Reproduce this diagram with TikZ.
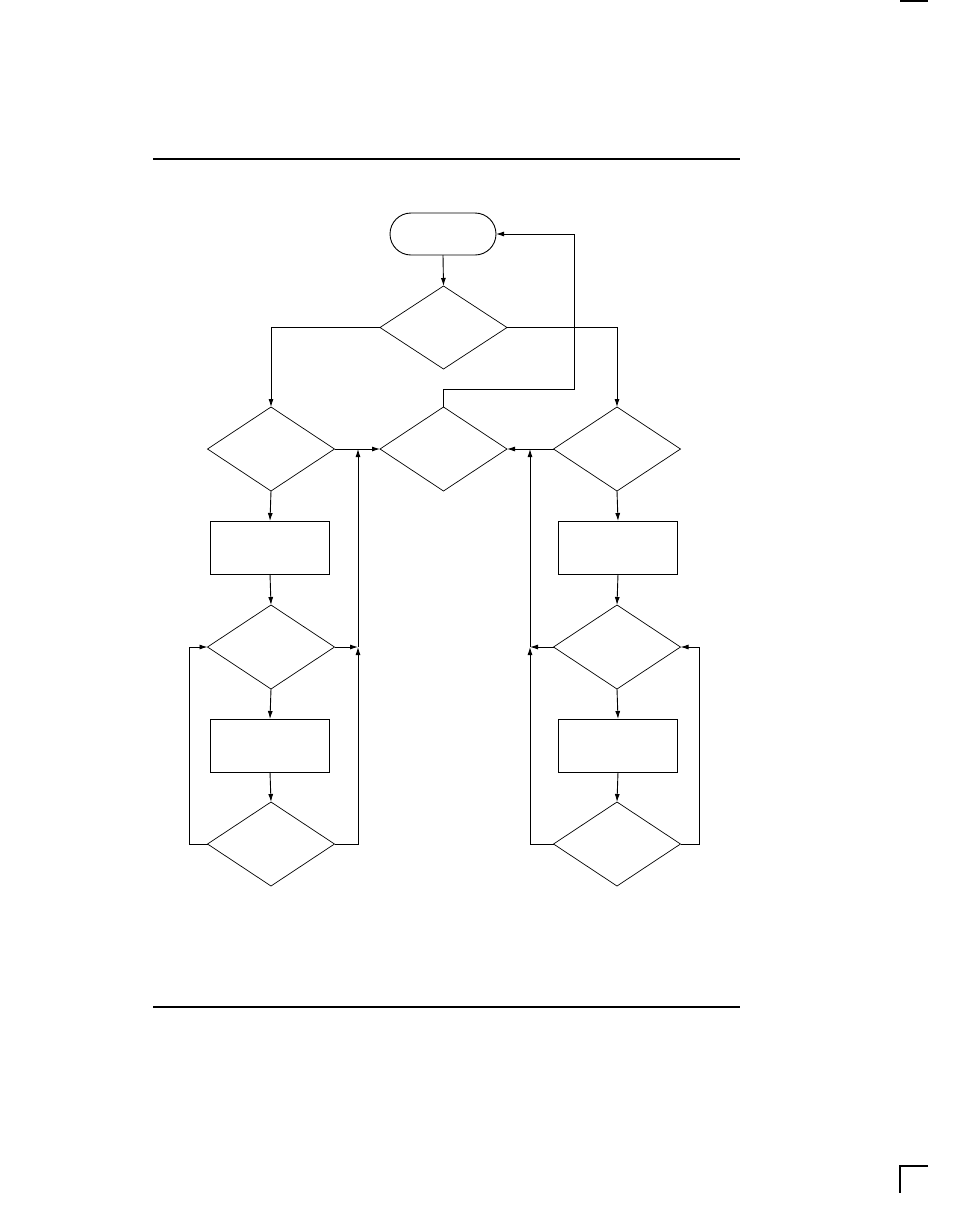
\documentclass[tikz,border=0pt]{standalone}
\usetikzlibrary{shapes.geometric,shapes.misc,arrows.meta}
\begin{document}
\begin{tikzpicture}[x=1pt,y=-1pt,
  dec/.style={draw,diamond,inner sep=0pt,outer sep=0pt,minimum width=127pt,minimum height=84pt,line width=0.7pt},
  proc/.style={draw,rectangle,inner sep=0pt,outer sep=0pt,minimum width=119pt,minimum height=53pt,line width=0.9pt},
  term/.style={draw,rounded rectangle,inner sep=0pt,outer sep=0pt,minimum width=106pt,minimum height=42pt,line width=0.9pt},
  conn/.style={line width=0.9pt},
  arr/.style={conn,-{Latex[length=8pt,width=5pt]}},
  rule/.style={line width=1.2pt}]
\useasboundingbox (0,0) rectangle (954,1219);
% page rules and marks
\coordinate (r1a) at (153,159); \coordinate (r1b) at (740,159);
\coordinate (r2a) at (153,1007); \coordinate (r2b) at (740,1007);
\draw[rule] (r1a) -- (r1b);
\draw[rule] (r2a) -- (r2b);
\coordinate (m1a) at (900,1); \coordinate (m1b) at (928,1);
\draw[rule] (m1a) -- (m1b);
\coordinate (m2a) at (928,1166); \coordinate (m2b) at (900,1166); \coordinate (m2c) at (900,1193);
\draw[rule] (m2a) -- (m2b) -- (m2c);
% nodes
\node[term] (t) at (443,234) {};
\node[dec,minimum height=83pt] (d0) at (443.5,327.5) {};
\node[dec] (dL1) at (271,449) {};
\node[dec] (dC) at (443.5,449) {};
\node[dec] (dR1) at (617,449) {};
\node[proc] (bL1) at (270,547.5) {};
\node[dec] (dL2) at (271,647) {};
\node[proc] (bL2) at (270,745.5) {};
\node[dec] (dL3) at (271,844) {};
\node[proc] (bR1) at (618,547.5) {};
\node[dec] (dR2) at (617,647) {};
\node[proc] (bR2) at (618,745.5) {};
\node[dec] (dR3) at (617,844) {};
% coordinates
\coordinate (jt) at (574,389);
\coordinate (jL1) at (358,449);
\coordinate (jL2) at (358,647);
\coordinate (jR1) at (530,449);
\coordinate (jR2) at (530,647);
\coordinate (lL) at (189,844);
\coordinate (lR) at (699,844);
% connectors
\draw[arr] (t.south) -- (d0.north);
\draw[arr] (d0.west) -| (dL1.north);
\draw[arr] (d0.east) -| (dR1.north);
\draw[arr] (dC.north) |- (jt) |- (t.east);
\draw[arr] (dL1.east) -- (dC.west);
\draw[arr] (dR1.west) -- (dC.east);
\draw[arr] (dL1.south) -- (bL1.north);
\draw[arr] (bL1.south) -- (dL2.north);
\draw[arr] (dL2.south) -- (bL2.north);
\draw[arr] (bL2.south) -- (dL3.north);
\draw[arr] (dR1.south) -- (bR1.north);
\draw[arr] (bR1.south) -- (dR2.north);
\draw[arr] (dR2.south) -- (bR2.north);
\draw[arr] (bR2.south) -- (dR3.north);
\draw[arr] (jL2) -- (jL1);
\draw[arr] (dL2.east) -- (jL2);
\draw[arr] (dL3.east) -| (jL2);
\draw[arr] (dL3.west) -- (lL) |- (dL2.west);
\draw[arr] (jR2) -- (jR1);
\draw[arr] (dR2.west) -- (jR2);
\draw[arr] (dR3.west) -| (jR2);
\draw[arr] (dR3.east) -- (lR) |- (dR2.east);
\end{tikzpicture}
\end{document}
